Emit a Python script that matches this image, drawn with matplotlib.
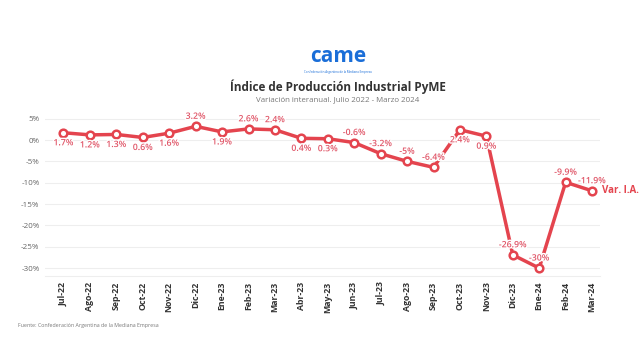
import matplotlib
matplotlib.use("Agg")
import matplotlib.pyplot as plt
import matplotlib.patheffects as pe

plt.rcParams["font.family"] = ["Open Sans", "DejaVu Sans"]

months = ["Jul-22", "Ago-22", "Sep-22", "Oct-22", "Nov-22", "Dic-22", "Ene-23",
          "Feb-23", "Mar-23", "Abr-23", "May-23", "Jun-23", "Jul-23", "Ago-23",
          "Sep-23", "Oct-23", "Nov-23", "Dic-23", "Ene-24", "Feb-24", "Mar-24"]
values = [1.7, 1.2, 1.3, 0.6, 1.6, 3.2, 1.9, 2.6, 2.4, 0.4, 0.3, -0.6, -3.2,
          -5.0, -6.4, 2.4, 0.9, -26.9, -30.0, -9.9, -11.9]
labels = ["1.7%", "1.2%", "1.3%", "0.6%", "1.6%", "3.2%", "1.9%", "2.6%", "2.4%",
          "0.4%", "0.3%", "-0.6%", "-3.2%", "-5%", "-6.4%", "2.4%", "0.9%",
          "-26.9%", "-30%", "-9.9%", "-11.9%"]
# +1 label above the point, -1 below
label_side = [-1, -1, -1, -1, -1, 1, -1, 1, 1, -1, -1, 1, 1, 1, 1, -1, -1, 1, 1, 1, 1]
yticks = [5, 0, -5, -10, -15, -20, -25, -30]

red = "#e4444e"
label_red = "#e05668"

fig = plt.figure(figsize=(6.42, 3.61), dpi=100)
ax = fig.add_axes([45 / 642, 1 - 276 / 361, 555 / 642, 164 / 361])

x = list(range(len(months)))
ax.plot(x, values, color=red, lw=2.5, marker="o", ms=5.5, mfc="white",
        mec=red, mew=1.8, zorder=3, solid_joinstyle="round")

halo = [pe.withStroke(linewidth=2, foreground="white")]
for xi, v, lab, side in zip(x, values, labels, label_side):
    dy = 4 if side > 0 else -4
    va = "bottom" if side > 0 else "top"
    ax.annotate(lab, (xi, v), xytext=(0, dy), textcoords="offset points",
                ha="center", va=va, fontsize=6.3, color=label_red,
                fontweight="semibold", zorder=4, path_effects=halo)

ax.annotate("Var. I.A.", (x[-1], values[-1]), xytext=(7, 0),
            textcoords="offset points", ha="left", va="center",
            fontsize=7, color=red, fontweight="bold")

ax.set_xlim(-0.7, 20.3)
ax.set_ylim(-31.85, 6.56)
ax.set_xticks(x)
ax.set_xticklabels(months, rotation=90, fontsize=6.3, color="#333333",
                   fontweight="bold")
ax.set_yticks(yticks)
ax.set_yticklabels([f"{t}%" for t in yticks], fontsize=5.8, color="#666666")
ax.tick_params(length=0, pad=4)
ax.grid(axis="y", color="#eeeeee", lw=0.8)
ax.set_axisbelow(True)
for s in ["top", "right", "left"]:
    ax.spines[s].set_visible(False)
ax.spines["bottom"].set_color("#eeeeee")

# logo stand-in
fig.text(338 / 642, 1 - 56 / 361, "came", ha="center", va="center",
         fontsize=15, fontweight="bold", color="#1a6ed8")
fig.text(338 / 642, 1 - 72 / 361, "Confederación Argentina de la Mediana Empresa",
         ha="center", va="center", fontsize=2.2, color="#1a6ed8")

fig.text(338 / 642, 1 - 87 / 361, "Índice de Producción Industrial PyME",
         ha="center", va="center", fontsize=8.5, fontweight="bold",
         color="#333333")
fig.text(338 / 642, 1 - 100 / 361, "Variación interanual. Julio 2022 - Marzo 2024",
         ha="center", va="center", fontsize=5.7, color="#777777")
fig.text(18 / 642, 1 - 326 / 361, "Fuente: Confederación Argentina de la Mediana Empresa",
         ha="left", va="center", fontsize=3.8, color="#777777")

fig.savefig("out.png", dpi=100, facecolor="white")
